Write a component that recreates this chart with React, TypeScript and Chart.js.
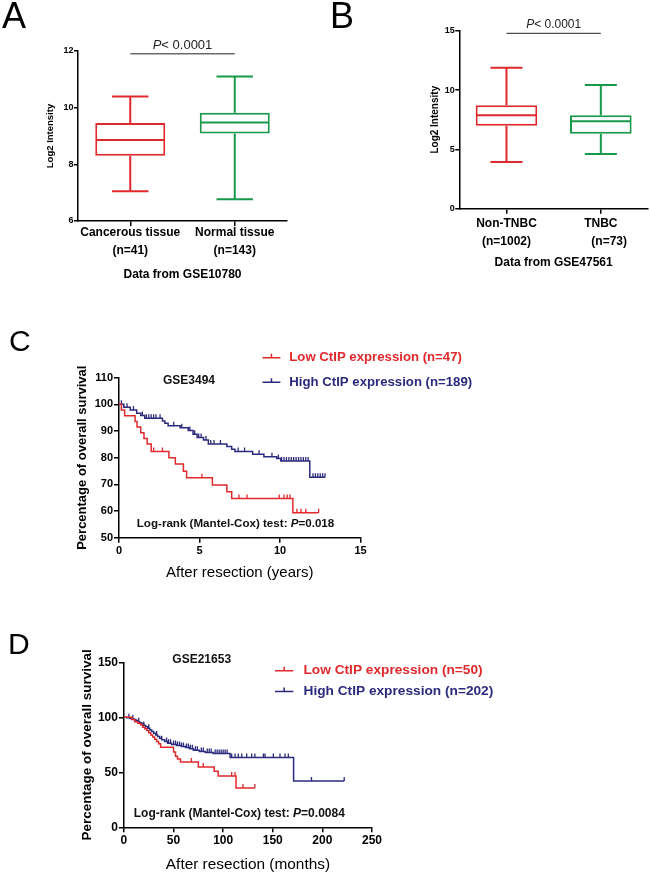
import React, { useEffect, useRef } from "react";
import { Chart, registerables } from "chart.js";

Chart.register(...registerables);

const FONT = "'Liberation Sans', Arial, Helvetica, sans-serif";
const RED = "#e0292c";
const GREEN = "#17994b";
const NAVY = "#2c2a7d";
const BLACK = "#000000";

// ---------- Panel A (box plot) ----------
const aCategories = [["Cancerous tissue", "(n=41)"], ["Normal tissue", "(n=143)"]];
const aMin = [7.05, 6.77];
const aQ1 = [8.3, 9.09];
const aMedian = [8.86, 9.48];
const aQ3 = [9.46, 9.82];
const aMax = [10.39, 11.1];
const aYTicks = [6, 8, 10, 12];
const aYTitle = "Log2 Intensity";
const aXTitle = "Data from GSE10780";
const aPText = "< 0.0001";
const aPLevel = 11.9;

// ---------- Panel B (box plot) ----------
const bCategories = [["Non-TNBC", "(n=1002)"], ["TNBC", "     (n=73)"]];
const bMin = [3.93, 4.61];
const bQ1 = [6.99, 6.32];
const bMedian = [7.87, 7.36];
const bQ3 = [8.71, 7.87];
const bMax = [11.88, 10.42];
const bYTicks = [0, 5, 10, 15];
const bYTitle = "Log2 Intensity";
const bXTitle = "Data from GSE47561";
const bPText = "< 0.0001";
const bPLevel = 14.78;

// ---------- Panel C (Kaplan-Meier, years) ----------
const cLowLabel = "Low CtIP expression (n=47)";
const cLowTimes = [0, 0.15, 0.35, 1.0, 1.12, 1.35, 1.55, 1.75, 2.0, 3.1, 3.5, 4.0, 4.2, 5.8, 6.7, 7.0, 10.8];
const cLowSurv = [100, 97.9, 95.7, 93.6, 91.5, 89.4, 87.2, 85.1, 82.3, 80.0, 77.6, 74.9, 72.5, 69.8, 67.2, 64.7, 59.4];
const cLowEnd = 12.4;
const cLowCensor = [2.15, 2.7, 5.15, 7.45, 7.95, 9.95, 10.25, 10.45, 10.62, 11.05, 11.3, 11.6, 12.4];
const cHighLabel = "High CtIP expression (n=189)";
const cHighTimes = [0, 0.3, 0.7, 1.1, 1.35, 1.6, 2.7, 2.85, 3.05, 3.8, 4.3, 4.6, 4.85, 5.25, 5.55, 6.7, 7.0, 7.2, 8.3, 9.0, 9.8, 10.05, 11.85];
const cHighSurv = [100, 98.9, 97.9, 96.7, 95.8, 94.8, 93.8, 92.9, 92.0, 91.2, 90.2, 88.8, 87.6, 86.6, 85.1, 84.2, 83.2, 82.3, 81.3, 80.4, 79.7, 78.8, 72.7];
const cHighEnd = 12.8;
const cHighCensor = [0.15, 0.5, 0.9, 1.45, 1.7, 1.85, 2.0, 2.15, 2.3, 2.55, 3.4, 3.9, 4.4, 4.7, 4.95, 5.1, 5.4, 5.7, 5.9, 6.3, 7.4, 7.8, 8.7, 9.5, 9.9, 10.1, 10.25, 10.4, 10.55, 10.7, 10.85, 11.0, 11.15, 11.3, 11.45, 11.6, 11.75, 12.05, 12.2, 12.35, 12.5, 12.65, 12.8];
const cXTicks = [0, 5, 10, 15];
const cYTicks = [50, 60, 70, 80, 90, 100, 110];
const cXTitle = "After resection (years)";
const cYTitle = "Percentage of overall survival";
const cDataset = "GSE3494";
const cTestPrefix = "Log-rank (Mantel-Cox) test: ";
const cTestValue = "=0.018";

// ---------- Panel D (Kaplan-Meier, months) ----------
const dLowLabel = "Low CtIP expression (n=50)";
const dLowTimes = [0, 8, 11, 14, 17, 19, 21, 23, 25, 27, 29, 31, 33, 35, 37, 50, 52, 54, 57, 75, 91, 95, 113];
const dLowSurv = [100, 98, 96, 94.5, 93, 91, 89.5, 88, 86, 84, 82, 80, 78, 76, 72.7, 68.5, 64.5, 62, 59.4, 54.8, 50.9, 46.7, 35.8];
const dLowEnd = 132;
const dLowCensor = [68, 80, 108.6, 112, 120, 132];
const dHighLabel = "High CtIP expression (n=202)";
const dHighTimes = [0, 3, 6, 8, 10, 12, 14, 16, 18, 20, 22, 24, 26, 28, 30, 32, 34, 36, 38, 41, 44, 48, 53, 58, 62, 66, 70, 76, 82, 90, 107, 171];
const dHighSurv = [100, 99.5, 99, 98.5, 98, 97, 96, 95, 94, 92.5, 91.5, 90, 88.5, 87, 85.5, 84, 82.5, 81, 79.5, 78, 76.5, 75.2, 74.3, 73.5, 72.5, 71.5, 70, 69, 68, 67, 63.5, 42];
const dHighEnd = 222;
const dHighCensor = [5, 9, 15, 20, 25, 33, 38, 43, 45, 47, 50, 52, 54, 56, 58, 60, 63, 65, 67, 69, 72, 74, 78, 80, 84, 86, 88, 92, 94, 96, 98, 100, 102, 104, 108.6, 112, 115.3, 118.7, 123.7, 128.8, 132, 140.6, 142.2, 150.6, 157.3, 162.4, 165.7, 189, 222];
const dXTicks = [0, 50, 100, 150, 200, 250];
const dYTicks = [0, 50, 100, 150];
const dXTitle = "After resection (months)";
const dYTitle = "Percentage of overall survival";
const dDataset = "GSE21653";
const dTestPrefix = "Log-rank (Mantel-Cox) test: ";
const dTestValue = "=0.0084";

// ---------- Layouts ----------
const LA = { left: 0, top: 0, w: 320, h: 300, padTop: 51, padRight: 33, yWidth: 78, xHeight: 79, barPct: 0.67, xTickPad: -2, xTitlePad: 17.8, yTitlePad: 44.3, yTitleSize: 9.5, yTickSize: 9, pSize: 13, pGap: 8.2 };
const LB = { left: 320, top: 0, w: 330, h: 300, padTop: 30.7, padRight: 2, yWidth: 139.3, xHeight: 91.3, barPct: 0.653, xTickPad: 1.3, xTitlePad: 29.8, yTitlePad: 109, yTitleSize: 10, yTickSize: 9, pSize: 12, pGap: 8.3 };
const LC = { left: 0, top: 310, w: 650, h: 290, padTop: 67.7, padRight: 289.5, yWidth: 119, xHeight: 62.3, tickSize: 11, xTickPad: 1.4, xTitleSize: 15, xTitlePad: 18, yTitleSize: 13, yTitlePad: 74.2, legX1: 262.5, legX2: 280.4, legTextX: 289.3, legY1: 47.7, legY2: 72.3, legSize: 13.2, gseX: 189, gseY: 70.7, gseSize: 12, testX: 235.5, testY: 213.3, testSize: 11.6 };
const LD = { left: 0, top: 620, w: 650, h: 258, padTop: 42.3, padRight: 278, yWidth: 123.9, xHeight: 50.7, tickSize: 12, xTickPad: 1.5, xTitleSize: 15.4, xTitlePad: 3.8, yTitleSize: 13.5, yTitlePad: 79.4, legX1: 275, legX2: 293.3, legTextX: 303.5, legY1: 50.7, legY2: 71.5, legSize: 13.7, gseX: 201.7, gseY: 40, gseSize: 12, testX: 239.3, testY: 193.3, testSize: 12 };

function drawRich(ctx, parts, cx, cy, size, weight, color) {
  ctx.save();
  ctx.textBaseline = "middle";
  ctx.textAlign = "left";
  ctx.fillStyle = color;
  let total = 0;
  const widths = parts.map((p) => {
    ctx.font = `${p.italic ? "italic " : ""}${weight} ${size}px ${FONT}`;
    const w = ctx.measureText(p.text).width;
    total += w;
    return w;
  });
  let x = cx - total / 2;
  parts.forEach((p, i) => {
    ctx.font = `${p.italic ? "italic " : ""}${weight} ${size}px ${FONT}`;
    ctx.fillText(p.text, x, cy);
    x += widths[i];
  });
  ctx.restore();
}

function makeBoxChart(canvas, d, L) {
  const boxPlugin = {
    id: "boxWhisker",
    afterDatasetsDraw(chart) {
      const ctx = chart.ctx;
      const y = chart.scales.y;
      const meta = chart.getDatasetMeta(0);
      ctx.save();
      ctx.lineWidth = 2;
      ctx.lineCap = "butt";
      meta.data.forEach((bar, i) => {
        const { x, width } = bar.getProps(["x", "width"], true);
        const col = d.colors[i];
        ctx.strokeStyle = col;
        const yMed = y.getPixelForValue(d.med[i]);
        const yQ1 = y.getPixelForValue(d.q1[i]);
        const yQ3 = y.getPixelForValue(d.q3[i]);
        const yMin = y.getPixelForValue(d.min[i]);
        const yMax = y.getPixelForValue(d.max[i]);
        const cap = width * 0.26;
        ctx.beginPath();
        ctx.moveTo(x - width / 2 + 1, yMed);
        ctx.lineTo(x + width / 2 - 1, yMed);
        ctx.moveTo(x, yQ3);
        ctx.lineTo(x, yMax);
        ctx.moveTo(x - cap, yMax);
        ctx.lineTo(x + cap, yMax);
        ctx.moveTo(x, yQ1);
        ctx.lineTo(x, yMin);
        ctx.moveTo(x - cap, yMin);
        ctx.lineTo(x + cap, yMin);
        ctx.stroke();
      });
      ctx.restore();
    },
    afterDraw(chart) {
      const ctx = chart.ctx;
      const y = chart.scales.y;
      const meta = chart.getDatasetMeta(0);
      const x1 = meta.data[0].x;
      const x2 = meta.data[1].x;
      const py = y.getPixelForValue(d.pLevel);
      ctx.save();
      ctx.strokeStyle = "#222";
      ctx.lineWidth = 1;
      ctx.beginPath();
      ctx.moveTo(x1, py);
      ctx.lineTo(x2, py);
      ctx.stroke();
      ctx.restore();
      drawRich(ctx, [{ text: "P", italic: true }, { text: d.pText }], (x1 + x2) / 2, py - L.pGap, L.pSize, "normal", "#222");
    },
  };
  return new Chart(canvas, {
    type: "bar",
    data: {
      labels: d.categories,
      datasets: [
        {
          data: d.q1.map((q, i) => [q, d.q3[i]]),
          backgroundColor: "#ffffff",
          borderColor: d.colors,
          borderWidth: 2,
          borderSkipped: false,
          barPercentage: L.barPct,
          categoryPercentage: 1,
        },
      ],
    },
    options: {
      responsive: false,
      animation: false,
      devicePixelRatio: 1,
      events: [],
      layout: { padding: { left: 0, top: L.padTop, right: L.padRight, bottom: 0 } },
      plugins: { legend: { display: false }, tooltip: { enabled: false } },
      scales: {
        x: {
          type: "category",
          offset: true,
          grid: { offset: false, drawOnChartArea: false, drawTicks: true, tickLength: 5, color: BLACK, lineWidth: 1.5 },
          border: { display: true, color: BLACK, width: 1.5 },
          ticks: { font: { family: FONT, size: 12, weight: "bold", lineHeight: 1.5 }, color: BLACK, padding: L.xTickPad, maxRotation: 0, autoSkip: false },
          title: { display: true, text: d.xTitle, color: BLACK, font: { family: FONT, size: 12, weight: "bold" }, padding: { top: 0, bottom: L.xTitlePad } },
          afterFit: (s) => { s.height = L.xHeight; },
        },
        y: {
          type: "linear",
          min: d.yTicks[0],
          max: d.yTicks[d.yTicks.length - 1],
          afterBuildTicks: (s) => { s.ticks = d.yTicks.map((v) => ({ value: v })); },
          grid: { drawOnChartArea: false, drawTicks: true, tickLength: 4, color: BLACK, lineWidth: 1.5 },
          border: { display: true, color: BLACK, width: 1.5 },
          ticks: { font: { family: FONT, size: L.yTickSize, weight: "bold" }, color: BLACK, padding: 0.5 },
          title: { display: true, text: d.yTitle, color: BLACK, font: { family: FONT, size: L.yTitleSize, weight: "bold" }, padding: { top: L.yTitlePad, bottom: 0 } },
          afterFit: (s) => { s.width = L.yWidth; },
        },
      },
    },
    plugins: [boxPlugin],
  });
}

function stepPoints(times, surv, end) {
  const pts = times.map((t, i) => ({ x: t, y: surv[i] }));
  pts.push({ x: end, y: surv[surv.length - 1] });
  return pts;
}

function survivalAt(times, surv, t) {
  let v = surv[0];
  for (let i = 0; i < times.length; i++) {
    if (times[i] <= t) v = surv[i];
  }
  return v;
}

function censorPoints(times, surv, cens) {
  return cens.map((t) => ({ x: t, y: survivalAt(times, surv, t) }));
}

function makeKmChart(canvas, d, L) {
  const annot = {
    id: "kmAnnot",
    afterDraw(chart) {
      const ctx = chart.ctx;
      const items = [
        { ds: chart.data.datasets[0], y: L.legY1 },
        { ds: chart.data.datasets[1], y: L.legY2 },
      ];
      items.forEach(({ ds, y }) => {
        ctx.save();
        ctx.strokeStyle = ds.borderColor;
        ctx.lineWidth = 1.5;
        ctx.beginPath();
        ctx.moveTo(L.legX1, y);
        ctx.lineTo(L.legX2, y);
        const mid = (L.legX1 + L.legX2) / 2;
        ctx.moveTo(mid, y);
        ctx.lineTo(mid, y - 4);
        ctx.stroke();
        ctx.fillStyle = ds.borderColor;
        ctx.font = `bold ${L.legSize}px ${FONT}`;
        ctx.textBaseline = "middle";
        ctx.textAlign = "left";
        ctx.fillText(ds.label, L.legTextX, y);
        ctx.restore();
      });
      drawRich(ctx, [{ text: d.dataset }], L.gseX, L.gseY, L.gseSize, "bold", "#111");
      drawRich(ctx, [{ text: d.testPrefix }, { text: "P", italic: true }, { text: d.testValue }], L.testX, L.testY, L.testSize, "bold", "#111");
    },
  };
  const censorDs = (times, surv, cens, color) => ({
    data: censorPoints(times, surv, cens),
    showLine: false,
    pointStyle: "dash",
    pointRotation: -90,
    pointRadius: 4,
    pointBorderColor: color,
    pointBackgroundColor: color,
    pointBorderWidth: 1.3,
    borderColor: color,
  });
  return new Chart(canvas, {
    type: "line",
    data: {
      datasets: [
        { label: d.lowLabel, data: stepPoints(d.lowTimes, d.lowSurv, d.lowEnd), borderColor: RED, borderWidth: 1.5, stepped: true, pointRadius: 0, fill: false },
        { label: d.highLabel, data: stepPoints(d.highTimes, d.highSurv, d.highEnd), borderColor: NAVY, borderWidth: 1.5, stepped: true, pointRadius: 0, fill: false },
        censorDs(d.lowTimes, d.lowSurv, d.lowCensor, RED),
        censorDs(d.highTimes, d.highSurv, d.highCensor, NAVY),
      ],
    },
    options: {
      responsive: false,
      animation: false,
      devicePixelRatio: 1,
      events: [],
      layout: { padding: { left: 0, top: L.padTop, right: L.padRight, bottom: 0 } },
      plugins: { legend: { display: false }, tooltip: { enabled: false } },
      scales: {
        x: {
          type: "linear",
          min: d.xTicks[0],
          max: d.xTicks[d.xTicks.length - 1],
          afterBuildTicks: (s) => { s.ticks = d.xTicks.map((v) => ({ value: v })); },
          grid: { drawOnChartArea: false, drawTicks: true, tickLength: 5, color: BLACK, lineWidth: 1.5 },
          border: { display: true, color: BLACK, width: 1.5 },
          ticks: { font: { family: FONT, size: L.tickSize, weight: "bold" }, color: BLACK, padding: L.xTickPad, maxRotation: 0 },
          title: { display: true, text: d.xTitle, color: BLACK, font: { family: FONT, size: L.xTitleSize, weight: "normal" }, padding: { top: 0, bottom: L.xTitlePad } },
          afterFit: (s) => { s.height = L.xHeight; },
        },
        y: {
          type: "linear",
          min: d.yTicks[0],
          max: d.yTicks[d.yTicks.length - 1],
          afterBuildTicks: (s) => { s.ticks = d.yTicks.map((v) => ({ value: v })); },
          grid: { drawOnChartArea: false, drawTicks: true, tickLength: 5, color: BLACK, lineWidth: 1.5 },
          border: { display: true, color: BLACK, width: 1.5 },
          ticks: { font: { family: FONT, size: L.tickSize, weight: "bold" }, color: BLACK, padding: 1 },
          title: { display: true, text: d.yTitle, color: BLACK, font: { family: FONT, size: L.yTitleSize, weight: "bold" }, padding: { top: L.yTitlePad, bottom: 0 } },
          afterFit: (s) => { s.width = L.yWidth; },
        },
      },
    },
    plugins: [annot],
  });
}

function ChartCanvas({ make, L }) {
  const ref = useRef(null);
  useEffect(() => {
    const chart = make(ref.current);
    return () => chart.destroy();
  }, []);
  return (
    <canvas
      ref={ref}
      width={L.w}
      height={L.h}
      style={{ position: "absolute", left: L.left, top: L.top, width: L.w, height: L.h }}
    />
  );
}

const letterStyle = (left, top, size) => ({
  position: "absolute" as const,
  left,
  top,
  fontFamily: FONT,
  fontSize: size,
  lineHeight: `${size}px`,
  color: "#000",
});

export default function App() {
  const aData = { categories: aCategories, min: aMin, q1: aQ1, med: aMedian, q3: aQ3, max: aMax, colors: [RED, GREEN], yTicks: aYTicks, yTitle: aYTitle, xTitle: aXTitle, pText: aPText, pLevel: aPLevel };
  const bData = { categories: bCategories, min: bMin, q1: bQ1, med: bMedian, q3: bQ3, max: bMax, colors: [RED, GREEN], yTicks: bYTicks, yTitle: bYTitle, xTitle: bXTitle, pText: bPText, pLevel: bPLevel };
  const cData = { lowLabel: cLowLabel, lowTimes: cLowTimes, lowSurv: cLowSurv, lowEnd: cLowEnd, lowCensor: cLowCensor, highLabel: cHighLabel, highTimes: cHighTimes, highSurv: cHighSurv, highEnd: cHighEnd, highCensor: cHighCensor, xTicks: cXTicks, yTicks: cYTicks, xTitle: cXTitle, yTitle: cYTitle, dataset: cDataset, testPrefix: cTestPrefix, testValue: cTestValue };
  const dData = { lowLabel: dLowLabel, lowTimes: dLowTimes, lowSurv: dLowSurv, lowEnd: dLowEnd, lowCensor: dLowCensor, highLabel: dHighLabel, highTimes: dHighTimes, highSurv: dHighSurv, highEnd: dHighEnd, highCensor: dHighCensor, xTicks: dXTicks, yTicks: dYTicks, xTitle: dXTitle, yTitle: dYTitle, dataset: dDataset, testPrefix: dTestPrefix, testValue: dTestValue };
  return (
    <div style={{ position: "absolute", left: 0, top: 0, width: 650, height: 878, overflow: "hidden", background: "#fff" }}>
      <ChartCanvas L={LA} make={(c) => makeBoxChart(c, aData, LA)} />
      <ChartCanvas L={LB} make={(c) => makeBoxChart(c, bData, LB)} />
      <ChartCanvas L={LC} make={(c) => makeKmChart(c, cData, LC)} />
      <ChartCanvas L={LD} make={(c) => makeKmChart(c, dData, LD)} />
      <div style={letterStyle(2, -2, 36)}>A</div>
      <div style={letterStyle(330, -2, 36)}>B</div>
      <div style={letterStyle(9, 326, 30)}>C</div>
      <div style={letterStyle(8, 629, 30)}>D</div>
    </div>
  );
}
